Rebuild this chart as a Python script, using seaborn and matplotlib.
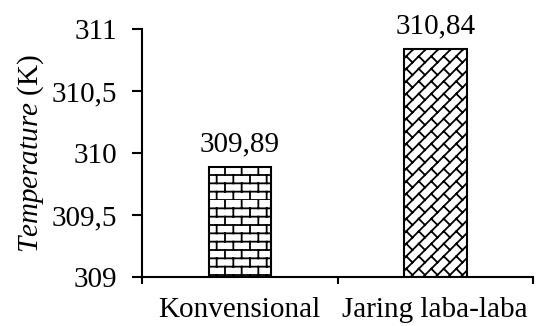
import numpy as np
import pandas as pd
import matplotlib
matplotlib.use("Agg")
import matplotlib.pyplot as plt
import seaborn as sns
from matplotlib.hatch import HatchPatternBase, _hatch_types
from matplotlib.path import Path
from matplotlib.ticker import FixedLocator

categories = ["Konvensional", "Jaring laba-laba"]
values = [309.89, 310.84]
value_labels = ["309,89", "310,84"]
yticks = [309, 309.5, 310, 310.5, 311]
ytick_labels = ["309", "309,5", "310", "310,5", "311"]


class BrickHatch(HatchPatternBase):
    def __init__(self, hatch, density):
        self.on = 'B' in hatch
        self.rows = 12
        self.cols = 6
        self.num_lines = (self.rows + self.rows * (self.cols + 1)) if self.on else 0
        self.num_vertices = self.num_lines * 2

    def set_vertices_and_codes(self, vertices, codes):
        segs = []
        for i in range(self.rows):
            y = i / self.rows
            segs.append(((0.0, y), (1.0, y)))
        for i in range(self.rows):
            y0 = i / self.rows
            y1 = (i + 1) / self.rows
            off = 0.5 * (i % 2)
            for j in range(self.cols + 1):
                x = (j + off) / self.cols
                segs.append(((x, y0), (x, y1)))
        vertices[:] = np.array(segs).reshape(-1, 2)
        codes[0::2] = Path.MOVETO
        codes[1::2] = Path.LINETO


class DiagBrickHatch(HatchPatternBase):
    def __init__(self, hatch, density):
        self.on = 'D' in hatch
        self.segs = []
        if self.on:
            n = 8
            m = 8
            for k in range(-n - 1, n + 2):
                c = k / n
                self.segs.append(((-1.0, -1.0 + c), (2.0, 2.0 + c)))
                for j in range(-m - 1, 2 * m + 2):
                    t = j / m
                    self.segs.append(((t, t + c), (t - 0.5 / n, t + c + 0.5 / n)))
        self.num_lines = len(self.segs)
        self.num_vertices = self.num_lines * 2

    def set_vertices_and_codes(self, vertices, codes):
        vertices[:] = np.array(self.segs).reshape(-1, 2)
        codes[0::2] = Path.MOVETO
        codes[1::2] = Path.LINETO


_hatch_types.append(BrickHatch)
_hatch_types.append(DiagBrickHatch)

sns.set_theme(style="ticks")
plt.rcParams['font.family'] = ['Liberation Serif', 'DejaVu Serif']
plt.rcParams['mathtext.fontset'] = 'custom'
plt.rcParams['mathtext.it'] = 'Liberation Serif:italic'
plt.rcParams['mathtext.rm'] = 'Liberation Serif'
plt.rcParams['hatch.linewidth'] = 1.3
plt.rcParams['hatch.color'] = 'black'
plt.rcParams['text.color'] = 'black'
plt.rcParams['axes.labelcolor'] = 'black'
plt.rcParams['xtick.color'] = 'black'
plt.rcParams['ytick.color'] = 'black'

FS = 21

df = pd.DataFrame({"cat": categories, "val": values})

fig = plt.figure(figsize=(5.36, 3.26), dpi=100)
ax = fig.add_axes([0.265, 0.150, 0.7295, 0.761])

sns.barplot(data=df, x="cat", y="val", ax=ax, color="white", width=0.32,
            edgecolor="black", linewidth=1.5)

ax.set_ylim(309, 311)
hatches = ['B', 'D']
for p, h in zip(ax.patches, hatches):
    y0 = 309
    p.set_y(y0)
    p.set_height(p.get_height() - y0)
    p.set_hatch(h)
    p.set_facecolor("white")
    p.set_edgecolor("black")

ax.bar_label(ax.containers[0], labels=value_labels, padding=7, fontsize=FS, color='black')

ax.yaxis.set_major_locator(FixedLocator(yticks))
ax.set_yticklabels(ytick_labels, fontsize=FS)
ax.set_xticks(range(len(categories)))
ax.set_xticklabels(categories, fontsize=FS)
ax.set_xticks([-0.5, 0.5, 1.5], minor=True)
ax.tick_params(axis='x', which='major', length=0, pad=14, labelcolor='black')
ax.tick_params(axis='x', which='minor', length=5, width=1.5, direction='out', color='black')
ax.tick_params(axis='y', length=7, width=1.5, direction='out', pad=11, colors='black')
ax.set_xlim(-0.5, 1.5)
ax.set_xlabel("")
ax.set_ylabel(r"$\it{Temperature}$ (K)", fontsize=FS, color='black')
ax.yaxis.set_label_coords(-0.245, 0.5)

sns.despine(ax=ax)
for s in ["left", "bottom"]:
    ax.spines[s].set_color("black")
    ax.spines[s].set_linewidth(1.5)

fig.savefig("out.png", dpi=100, facecolor="white")
